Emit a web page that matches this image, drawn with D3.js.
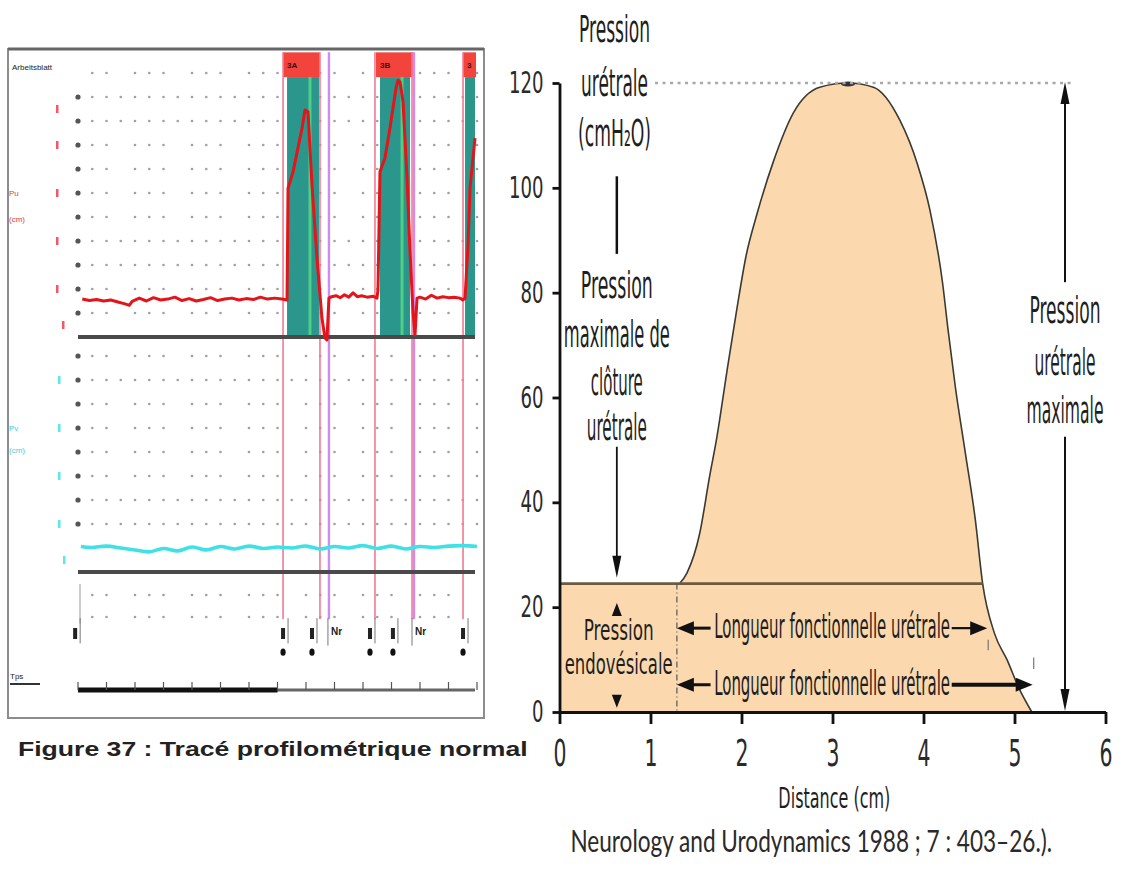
<!DOCTYPE html>
<html>
<head>
<meta charset="utf-8">
<script src="https://cdn.jsdelivr.net/npm/d3@7"></script>
<style>
  body { margin: 0; background: #fff; }
  svg { display: block; }
</style>
</head>
<body>
<div id="chart"></div>
<script>
// right figure : urethral pressure profile (distance cm / pressure cmH2O)
const distanceCm = [0, 1.32, 1.40, 1.54, 1.65, 1.73, 1.84, 1.95, 2.05, 2.17, 2.35, 2.57, 2.86, 3.17,
  3.45, 3.74, 3.93, 4.07, 4.21, 4.27, 4.35, 4.46, 4.57, 4.65, 4.78, 4.92, 5.05, 5.19];
const pressureCm = [24.5, 24.5, 26.5, 34, 45, 52.5, 65, 77, 87, 95, 105, 114.3, 119.2, 120,
  119.2, 112.9, 104.7, 95.8, 81.8, 72.9, 62, 49.4, 36.6, 24.5, 15, 9.9, 4.5, 0];
const endovesical = 24.5;
const maxPressure = 120;
const closureStart = 1.29, closureEnd = 4.70, profileEnd = 5.20;
const yTicks = [0, 20, 40, 60, 80, 100, 120];
const xTicks = [0, 1, 2, 3, 4, 5, 6];

// left figure : recorder screenshot (time in grid columns)
const redTime = [0.3, 0.8, 1.3, 1.8, 2.3, 2.8, 3.3, 3.6, 3.8, 4.3, 4.8, 5.3, 5.8, 6.3, 6.8, 7.3, 7.8, 8.3,
  8.8, 9.3, 9.8, 10.3, 10.8, 11.3, 11.8, 12.3, 12.8, 13.3, 13.8, 14.3, 14.67,
  14.74, 15.09, 15.72, 15.93, 16.14, 16.42, 16.77, 17.12, 17.33, 17.47, 17.61,
  17.8, 18.1, 18.4, 18.7, 19.0, 19.3, 19.6, 19.9, 20.3, 20.7, 20.98,
  21.05, 21.19, 21.54, 21.89, 22.32, 22.46, 22.6, 22.81, 23.09, 23.3, 23.51, 23.65, 23.79,
  24.0, 24.4, 24.8, 25.2, 25.6, 26.0, 26.4, 26.8, 27.02,
  27.16, 27.37, 27.51, 27.86];
const redPressure = [15.8, 15.2, 15.6, 15.0, 15.4, 14.6, 13.8, 13.2, 14.8, 16.2, 15.0, 16.4, 15.4, 15.8, 16.6, 15.2, 16.0, 15.0,
  15.6, 16.4, 15.2, 15.8, 16.2, 15.4, 16.0, 15.6, 16.6, 15.8, 16.2, 15.8, 15.4,
  62, 68.8, 87, 94.6, 93.8, 63.3, 32.9, 7.9, -0.4, -1.2, 16.2,
  16.8, 17.2, 16.4, 17.6, 16.6, 18.4, 16.8, 17.2, 16.6, 17.0, 16.2,
  19.6, 68.8, 74.6, 87, 103.8, 107, 106.3, 97.9, 66.3, 35.4, 10.4, 0.8, 16.2,
  16.6, 15.8, 17.4, 16.2, 16.8, 16.4, 16.6, 16.2, 15.4,
  16.2, 38.3, 62, 82.9];
const cyanTime = [0.2, 1, 2, 3, 4, 5, 6, 7, 8, 9, 10, 11, 12, 13, 14, 15, 16, 17, 18, 19, 20, 21, 22, 23, 24, 25, 26, 27, 28];
const cyanPressure = [10.6, 10.2, 10.8, 10.0, 9.2, 8.4, 9.8, 8.8, 10.4, 9.2, 10.6, 9.6, 10.8, 9.8, 10.4, 10.0, 10.8, 9.6,
  10.6, 10.0, 11.0, 9.8, 10.8, 9.6, 10.6, 10.2, 10.8, 11.0, 10.6];

const eventLines = [14.39, 16.98, 20.84, 23.44, 27.02];
const markerLines = [17.61, 23.58];
const zones = [[14.67, 16.91], [21.19, 23.30], [27.16, 27.86]];
const zoneHeaders = [[14.39, 16.98, "3A"], [20.91, 23.51, "3B"], [27.02, 27.93, "3"]];
const greenLines = [16.28, 22.74];
const markerTimes = [-0.2, 14.39, 16.42, 20.49, 22.1, 27.02];
const flagTimes = [17.75, 23.65];
const redGrid = [10, 20, 30, 40, 50, 60, 70, 80, 90, 100, 110];
const redGridFull = [false, false, true, true, false, false, false, false, true, true, false];
const cyanGrid = [20, 30, 40, 50, 60, 70, 80, 90];
const cyanGridFull = [true, true, false, false, false, false, true, false];
const eventGrid = [1, 2];
const redScaleMarks = [5, 20, 40, 60, 80, 95];
const cyanScaleMarks = [5, 20, 40, 60, 80];
const timeTicks = [0, 2, 4, 6, 8, 10, 12, 14, 16, 18, 20, 22, 24, 26, 28];

const NARROW = "'Liberation Sans Narrow','DejaVu Sans Condensed','Liberation Sans',Arial,sans-serif";

const svg = d3.select("#chart").append("svg")
  .attr("width", 1122)
  .attr("height", 870);
svg.append("rect").attr("width", 1122).attr("height", 870).attr("fill", "#fff");

// squeeze a text horizontally to a given width (keeps its height)
function fit(sel, len) {
  sel.each(function (d) {
    const t = d3.select(this);
    const w = this.getComputedTextLength();
    const target = typeof len === "function" ? len(d) : len;
    const x = +t.attr("x") || 0;
    t.attr("x", 0).attr("transform", "translate(" + x + ",0) scale(" + (target / w) + ",1)");
  });
  return sel;
}

function addText(g, str, x, y, size, len, anchor) {
  const t = g.append("text")
    .attr("x", x).attr("y", y)
    .attr("font-family", NARROW)
    .attr("font-size", size)
    .attr("text-anchor", anchor || "middle")
    .attr("fill", "#1e1e1e")
    .text(str);
  return fit(t, len);
}

function arrowHead(g, x, y, dir, len, half) {
  let pts;
  if (dir === "up") pts = [[x, y], [x - half, y + len], [x + half, y + len]];
  if (dir === "down") pts = [[x, y], [x - half, y - len], [x + half, y - len]];
  if (dir === "left") pts = [[x, y], [x + len, y - half], [x + len, y + half]];
  if (dir === "right") pts = [[x, y], [x - len, y - half], [x - len, y + half]];
  g.append("polygon").attr("points", pts.map(p => p.join(",")).join(" ")).attr("fill", "#111");
}

// ---------------- left panel ----------------
const xT = d3.scaleLinear().domain([0, 28]).range([78, 477]);
const yRed = d3.scaleLinear().domain([0, 110]).range([337, 73]);
const yCyan = d3.scaleLinear().domain([0, 90]).range([572, 356]);
const yEvt = d3.scaleLinear().domain([0, 2]).range([639, 595]);
const columns = d3.range(29);

const trace = svg.append("g").attr("class", "trace");
trace.append("rect")
  .attr("x", 8).attr("y", 49).attr("width", 476).attr("height", 669)
  .attr("fill", "#fff").attr("stroke", "#8c8c8c").attr("stroke-width", 2);
trace.append("line")
  .attr("x1", 8).attr("x2", 484).attr("y1", 49).attr("y2", 49)
  .attr("stroke", "#666").attr("stroke-width", 3);

trace.append("text").attr("x", 12).attr("y", 70)
  .attr("font-family", "Liberation Sans, Arial").attr("font-size", 8).attr("fill", "#222")
  .text("Arbeitsblatt");

function dotRows(rows, full, yScale, skipFirst) {
  rows.forEach(function (p, i) {
    const cols = columns.filter(function (c) {
      if (skipFirst && i === rows.length - 1 && c === 0) return false;
      return full[i] || c % 4 !== 3;
    });
    trace.append("g").selectAll("circle")
      .data(cols)
      .enter().append("circle")
      .attr("cx", d => xT(d))
      .attr("cy", yScale(p))
      .attr("r", d => d === 0 ? 2.6 : 1.3)
      .attr("fill", d => d === 0 ? "#555" : "#a0a0a0");
  });
}
dotRows(redGrid, redGridFull, yRed, true);
dotRows(cyanGrid, cyanGridFull, yCyan, false);
eventGrid.forEach(function (p) {
  trace.append("g").selectAll("circle")
    .data(columns.filter(c => c > 0 && c % 4 !== 3 && c < 28))
    .enter().append("circle")
    .attr("cx", d => xT(d)).attr("cy", yEvt(p)).attr("r", 1.3).attr("fill", "#a0a0a0");
});

// zones
trace.append("g").selectAll("rect")
  .data(zones)
  .enter().append("rect")
  .attr("x", d => xT(d[0]))
  .attr("width", d => xT(d[1]) - xT(d[0]))
  .attr("y", yRed(108.3))
  .attr("height", yRed(0) - yRed(108.3))
  .attr("fill", "#2a968c");
trace.append("g").selectAll("rect")
  .data(zoneHeaders)
  .enter().append("rect")
  .attr("x", d => xT(d[0]))
  .attr("width", d => xT(d[1]) - xT(d[0]))
  .attr("y", yRed(118.6))
  .attr("height", yRed(108.3) - yRed(118.6))
  .attr("fill", "#f2433c");
trace.append("g").selectAll("text")
  .data(zoneHeaders)
  .enter().append("text")
  .attr("x", d => xT(d[0]) + 4)
  .attr("y", yRed(112))
  .attr("font-family", "Liberation Sans, Arial").attr("font-size", 8).attr("font-weight", "bold")
  .attr("fill", "#3a1010")
  .text(d => d[2]);
trace.append("g").selectAll("line")
  .data(greenLines)
  .enter().append("line")
  .attr("x1", d => xT(d)).attr("x2", d => xT(d))
  .attr("y1", yRed(108.3)).attr("y2", yRed(0))
  .attr("stroke", "#4fcf86").attr("stroke-width", 3);

// event lines
trace.append("g").selectAll("line")
  .data(eventLines)
  .enter().append("line")
  .attr("x1", d => xT(d)).attr("x2", d => xT(d))
  .attr("y1", yRed(118.6)).attr("y2", yEvt(0.9))
  .attr("stroke", "#f27a90").attr("stroke-width", 1.6);
trace.append("g").selectAll("line")
  .data(markerLines)
  .enter().append("line")
  .attr("x1", d => xT(d)).attr("x2", d => xT(d))
  .attr("y1", yRed(118.6)).attr("y2", yEvt(0.9))
  .attr("stroke", "#cf8cf0").attr("stroke-width", 2.4);

// channel baselines
[yRed(0), yCyan(0)].forEach(function (y) {
  trace.append("line")
    .attr("x1", xT(0)).attr("x2", xT(28) - 2).attr("y1", y).attr("y2", y)
    .attr("stroke", "#4a4a4a").attr("stroke-width", 4);
});

// traces
const redLine = d3.line()
  .x(d => xT(d[0]))
  .y(d => yRed(d[1]));
trace.append("path")
  .datum(d3.zip(redTime, redPressure))
  .attr("d", redLine)
  .attr("fill", "none").attr("stroke", "#e3151a").attr("stroke-width", 3)
  .attr("stroke-linejoin", "round");

const cyanLine = d3.line()
  .x(d => xT(d[0]))
  .y(d => yCyan(d[1]))
  .curve(d3.curveCardinal);
trace.append("path")
  .datum(d3.zip(cyanTime, cyanPressure))
  .attr("d", cyanLine)
  .attr("fill", "none").attr("stroke", "#3fe0e6").attr("stroke-width", 3.6);

// scale marks and channel names
trace.append("g").selectAll("rect")
  .data(redScaleMarks)
  .enter().append("rect")
  .attr("x", d => d === 5 ? 62 : 56).attr("y", d => yRed(d) - 4)
  .attr("width", 2.5).attr("height", 8).attr("fill", "#f05a60");
trace.append("g").selectAll("rect")
  .data(cyanScaleMarks)
  .enter().append("rect")
  .attr("x", d => d === 5 ? 63 : 58).attr("y", d => yCyan(d) - 4)
  .attr("width", 2.5).attr("height", 8).attr("fill", "#5fe6ea");
[["Pu", 60], ["(cm)", 49]].forEach(function (t) {
  trace.append("text").attr("x", 9).attr("y", yRed(t[1]) + 3)
    .attr("font-family", "Liberation Sans, Arial").attr("font-size", 8).attr("fill", "#e34040").text(t[0]);
});
[["Pv", 60], ["(cm)", 51]].forEach(function (t) {
  trace.append("text").attr("x", 9).attr("y", yCyan(t[1]) + 3)
    .attr("font-family", "Liberation Sans, Arial").attr("font-size", 8).attr("fill", "#3ccfe0").text(t[0]);
});

// event channel markers
trace.append("line")
  .attr("x1", xT(0) + 2).attr("x2", xT(0) + 2).attr("y1", yEvt(2.5)).attr("y2", yEvt(0.7))
  .attr("stroke", "#999").attr("stroke-width", 1);
markerTimes.forEach(function (t, i) {
  const x = xT(t);
  trace.append("rect").attr("x", x - 2).attr("y", yEvt(0.5)).attr("width", 4).attr("height", 11).attr("fill", "#222");
  trace.append("line").attr("x1", x + 5).attr("x2", x + 5).attr("y1", yEvt(0.95)).attr("y2", yEvt(-0.2))
    .attr("stroke", "#777").attr("stroke-width", 1);
  if (i > 0) {
    trace.append("ellipse").attr("cx", x).attr("cy", yEvt(-0.6)).attr("rx", 2.6).attr("ry", 3.6).attr("fill", "#111");
  }
});
flagTimes.forEach(function (t) {
  const x = xT(t);
  trace.append("line").attr("x1", x - 3).attr("x2", x - 3).attr("y1", yEvt(0.95)).attr("y2", yEvt(-0.3))
    .attr("stroke", "#777").attr("stroke-width", 1);
  trace.append("text").attr("x", x).attr("y", yEvt(0.2))
    .attr("font-family", "Liberation Sans, Arial").attr("font-size", 10).attr("font-weight", "bold")
    .attr("fill", "#222").text("Nr");
});

// time axis
const tAxisY = 690;
trace.append("line").attr("x1", xT(0)).attr("x2", xT(28) - 2).attr("y1", tAxisY).attr("y2", tAxisY)
  .attr("stroke", "#666").attr("stroke-width", 3);
trace.append("line").attr("x1", xT(0)).attr("x2", xT(14)).attr("y1", tAxisY).attr("y2", tAxisY)
  .attr("stroke", "#111").attr("stroke-width", 5);
trace.append("g").selectAll("line")
  .data(timeTicks)
  .enter().append("line")
  .attr("x1", d => xT(d)).attr("x2", d => xT(d))
  .attr("y1", tAxisY).attr("y2", tAxisY - 8)
  .attr("stroke", "#555").attr("stroke-width", 1.2);
trace.append("text").attr("x", 10).attr("y", 679)
  .attr("font-family", "Liberation Sans, Arial").attr("font-size", 8).attr("fill", "#222").text("Tps");
trace.append("line").attr("x1", 10).attr("x2", 40).attr("y1", 684).attr("y2", 684)
  .attr("stroke", "#333").attr("stroke-width", 2);

fit(svg.append("text")
  .attr("x", 18).attr("y", 756)
  .attr("font-family", "'Liberation Sans', Arial, sans-serif")
  .attr("font-size", 20).attr("font-weight", "bold")
  .attr("fill", "#222")
  .text("Figure 37 : Tracé profilométrique normal"), 510);

// ---------------- right panel ----------------
const xR = d3.scaleLinear().domain([0, 6]).range([559.5, 1105.5]);
const yR = d3.scaleLinear().domain([0, 120]).range([712, 83]);
const profile = svg.append("g").attr("class", "profile");
const pts = d3.zip(distanceCm, pressureCm);

const area = d3.area()
  .x(d => xR(d[0]))
  .y0(yR(0))
  .y1(d => yR(d[1]))
  .curve(d3.curveMonotoneX);
profile.append("path").datum(pts).attr("d", area).attr("fill", "#fbd8ae");

const outline = d3.line()
  .x(d => xR(d[0]))
  .y(d => yR(d[1]))
  .curve(d3.curveMonotoneX);
profile.append("path").datum(pts.slice(1)).attr("d", outline)
  .attr("fill", "none").attr("stroke", "#3a3a32").attr("stroke-width", 1.6);
profile.append("ellipse")
  .attr("cx", xR(distanceCm[pressureCm.indexOf(maxPressure)])).attr("cy", yR(maxPressure) + 1)
  .attr("rx", 7).attr("ry", 2.5).attr("fill", "#333");

profile.append("line")
  .attr("x1", xR(0)).attr("x2", xR(4.65)).attr("y1", yR(endovesical)).attr("y2", yR(endovesical))
  .attr("stroke", "#6e5b3e").attr("stroke-width", 2.6);

profile.append("line")
  .attr("x1", xR(1.05)).attr("x2", xR(5.66)).attr("y1", yR(maxPressure)).attr("y2", yR(maxPressure))
  .attr("stroke", "#a8a8a8").attr("stroke-width", 2.5).attr("stroke-dasharray", "3,4.5");

profile.append("line")
  .attr("x1", xR(closureStart)).attr("x2", xR(closureStart)).attr("y1", yR(endovesical)).attr("y2", yR(0))
  .attr("stroke", "#555").attr("stroke-width", 1.2).attr("stroke-dasharray", "6,3,1,3");
profile.append("line")
  .attr("x1", xR(closureEnd) + 1).attr("x2", xR(closureEnd) + 1).attr("y1", yR(13.8)).attr("y2", yR(11.8))
  .attr("stroke", "#777").attr("stroke-width", 1.2);
profile.append("line")
  .attr("x1", xR(profileEnd) + 1).attr("x2", xR(profileEnd) + 1).attr("y1", yR(10.4)).attr("y2", yR(8.2))
  .attr("stroke", "#777").attr("stroke-width", 1.2);

// axes
const yAxis = profile.append("g")
  .attr("transform", "translate(" + xR(0) + ",0)")
  .call(d3.axisLeft(yR).tickValues(yTicks).tickFormat(d3.format("d"))
    .tickSize(7).tickSizeOuter(0).tickPadding(9));
const xAxis = profile.append("g")
  .attr("transform", "translate(0," + yR(0) + ")")
  .call(d3.axisBottom(xR).tickValues(xTicks).tickFormat(d3.format("d"))
    .tickSize(12).tickSizeOuter(0).tickPadding(20));
[yAxis, xAxis].forEach(function (ax) {
  ax.select(".domain").attr("stroke", "#111").attr("stroke-width", 2.8);
  ax.selectAll(".tick line").attr("stroke", "#111").attr("stroke-width", 2.8);
  ax.selectAll("text").attr("font-family", NARROW).attr("fill", "#2a2a2a");
});
fit(yAxis.selectAll("text").attr("font-size", 30), d => String(d).length * 11.5);
fit(xAxis.selectAll("text").attr("font-size", 37).attr("dy", "0.6em"), 13);

addText(profile, "Distance (cm)", xR(3.02), yR(0) + 96, 29, 112);
fit(profile.append("text")
  .attr("x", xR(0.12)).attr("y", yR(0) + 140)
  .attr("font-family", "Lato, 'Open Sans', sans-serif")
  .attr("font-size", 31)
  .attr("fill", "#2a2a2a")
  .text("Neurology and Urodynamics 1988 ; 7 : 403–26.)."), 482);

// annotation texts
const leftX = 0.63, rightX = 5.555;
const noteTop = [["Pression", 127.8, 71], ["urétrale", 117.5, 67], ["(cmH₂O)", 108.0, 73]];
const noteClosure = [["Pression", 79.0, 72], ["maximale de", 69.6, 106], ["clôture", 60.5, 52], ["urétrale", 51.9, 60]];
const noteEndo = [["Pression", 13.8, 70], ["endovésicale", 7.2, 108]];
const noteMax = [["Pression", 74.2, 71], ["urétrale", 64.3, 61], ["maximale", 55.1, 77]];
noteTop.forEach(n => addText(profile, n[0], xR(0.605), yR(n[1]), 37, n[2]));
noteClosure.forEach(n => addText(profile, n[0], xR(leftX), yR(n[1]), 37, n[2]));
noteEndo.forEach(n => addText(profile, n[0], xR(0.65), yR(n[1]), 29, n[2]));
noteMax.forEach(n => addText(profile, n[0], xR(rightX), yR(n[1]), 37, n[2]));

// annotation arrows
profile.append("line")
  .attr("x1", xR(leftX)).attr("x2", xR(leftX)).attr("y1", yR(102.2)).attr("y2", yR(87.4))
  .attr("stroke", "#111").attr("stroke-width", 2.5);
profile.append("line")
  .attr("x1", xR(leftX)).attr("x2", xR(leftX)).attr("y1", yR(50.6)).attr("y2", yR(28))
  .attr("stroke", "#111").attr("stroke-width", 1.8);
arrowHead(profile, xR(leftX), yR(25.6), "down", 22, 4.5);
arrowHead(profile, xR(leftX), yR(20.8), "up", 13, 5);
arrowHead(profile, xR(leftX), yR(0.8), "down", 13, 5);

profile.append("line")
  .attr("x1", xR(rightX)).attr("x2", xR(rightX)).attr("y1", yR(117)).attr("y2", yR(82))
  .attr("stroke", "#111").attr("stroke-width", 2);
profile.append("line")
  .attr("x1", xR(rightX)).attr("x2", xR(rightX)).attr("y1", yR(52.5)).attr("y2", yR(3))
  .attr("stroke", "#111").attr("stroke-width", 2);
arrowHead(profile, xR(rightX), yR(maxPressure) - 1, "up", 22, 4.5);
arrowHead(profile, xR(rightX), yR(0.2), "down", 22, 4.5);

const rowFunctional = [[16.0, closureEnd, 14.1, 2.2], [5.2, profileEnd, 3.2, 4]];
rowFunctional.forEach(function (r) {
  const y = yR(r[0]);
  arrowHead(profile, xR(closureStart), y, "left", 17, 7);
  profile.append("line").attr("x1", xR(closureStart) + 16).attr("x2", xR(1.66)).attr("y1", y).attr("y2", y)
    .attr("stroke", "#111").attr("stroke-width", 3);
  addText(profile, "Longueur fonctionnelle urétrale", xR(1.70), yR(r[2]), 33, 236, "start");
  profile.append("line").attr("x1", xR(4.31)).attr("x2", xR(r[1]) - 14).attr("y1", y).attr("y2", y)
    .attr("stroke", "#111").attr("stroke-width", r[3]);
  arrowHead(profile, xR(r[1]), y, "right", 17, 7);
});
</script>
</body>
</html>
